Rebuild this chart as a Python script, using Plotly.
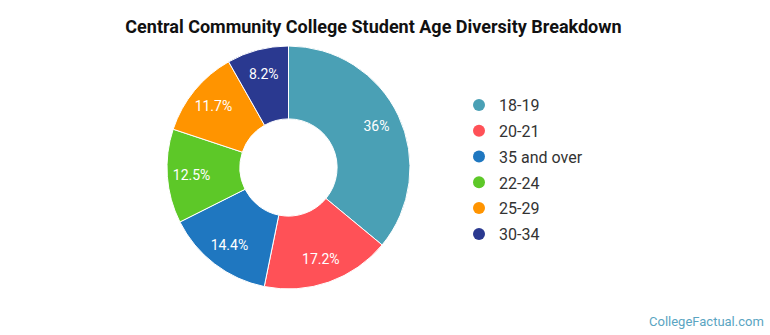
import plotly.graph_objects as go

labels = ["18-19", "20-21", "35 and over", "22-24", "25-29", "30-34"]
values = [36, 17.2, 14.4, 12.5, 11.7, 8.2]
colors = ["#4AA0B5", "#FF5157", "#1F77C0", "#5DC828", "#FF9400", "#2A3990"]

dom = dict(x=[167/770, 410/770], y=[45/335, 290/335])

fig = go.Figure()
# colored donut ring
fig.add_trace(go.Pie(
    labels=labels, values=values, sort=False, direction="clockwise", rotation=0,
    hole=0.4, marker=dict(colors=colors, line=dict(color="white", width=1)),
    textinfo="none", showlegend=False, hoverinfo="label+percent", domain=dom,
))
# transparent overlay ring that places the labels further out
fig.add_trace(go.Pie(
    labels=labels, values=values, sort=False, direction="clockwise", rotation=0,
    hole=0.6, marker=dict(colors=["rgba(0,0,0,0)"] * len(values), line=dict(width=0)),
    texttemplate="%{value}%", textposition="inside", insidetextorientation="horizontal",
    textfont=dict(family="Roboto", size=14, color="white"),
    showlegend=False, hoverinfo="skip", domain=dom,
))
for lab, col in zip(labels, colors):
    fig.add_trace(go.Scatter(
        x=[None], y=[None], mode="markers", name=lab, legendgroup=lab,
        marker=dict(symbol="circle", size=16, color=col), showlegend=True,
    ))

fig.update_layout(
    width=770, height=335, margin=dict(l=0, r=0, t=0, b=0),
    paper_bgcolor="white", plot_bgcolor="white",
    title=dict(text="<b>Central Community College Student Age Diversity Breakdown</b>",
               x=0.485, xanchor="center", y=1 - 27/335, yanchor="middle",
               font=dict(family="Roboto", size=18, color="#111")),
    xaxis=dict(visible=False), yaxis=dict(visible=False),
    legend=dict(x=459/770, y=1 - 88/335, xanchor="left", yanchor="top",
                font=dict(family="Roboto", size=16, color="#333"),
                tracegroupgap=2,
                itemsizing="constant", bgcolor="rgba(0,0,0,0)"),
    annotations=[dict(text="CollegeFactual.com", x=1, y=0, xref="paper", yref="paper",
                      xanchor="right", yanchor="bottom", xshift=-4, yshift=4, showarrow=False,
                      font=dict(family="Roboto", size=13, color="#5AA5C2"))],
)

fig.write_html("out.html")
